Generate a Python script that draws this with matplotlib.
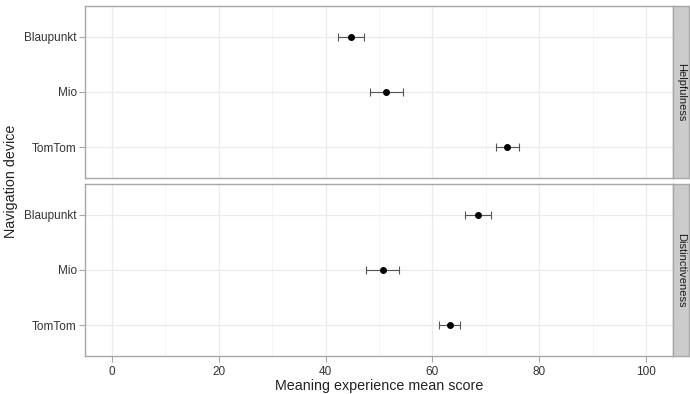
import matplotlib
matplotlib.use("Agg")
import matplotlib.pyplot as plt
from matplotlib.ticker import MultipleLocator

plt.rcParams['font.family'] = ['Liberation Sans', 'DejaVu Sans']

devices = ["Blaupunkt", "Mio", "TomTom"]
facets = ["Helpfulness", "Distinctiveness"]
means = {
    "Helpfulness": [44.8, 51.3, 74.0],
    "Distinctiveness": [68.5, 50.7, 63.2],
}
lower = {
    "Helpfulness": [42.4, 48.3, 71.9],
    "Distinctiveness": [66.0, 47.6, 61.2],
}
upper = {
    "Helpfulness": [47.2, 54.4, 76.1],
    "Distinctiveness": [70.9, 53.7, 65.2],
}
xticks = [0, 20, 40, 60, 80, 100]

fig = plt.figure(figsize=(6.9, 3.94), dpi=100)
W, H = 690, 394
left, right = 85, 673
panels = [(6, 178), (184, 356)]
border = "#a8a8a8"
txt = "#333333"

for i, (facet, (t, b)) in enumerate(zip(facets, panels)):
    ax = fig.add_axes([left / W, 1 - b / H, (right - left) / W, (b - t) / H])
    ypos = list(range(len(devices)))
    m = means[facet]
    lo = [mm - l for mm, l in zip(m, lower[facet])]
    hi = [u - mm for mm, u in zip(m, upper[facet])]
    ax.errorbar(m, ypos, xerr=[lo, hi], fmt='none', ecolor='#555555',
                elinewidth=0.8, capsize=3, capthick=0.8, zorder=3)
    ax.plot(m, ypos, 'o', color='black', markersize=4, zorder=4)
    ax.set_xlim(-5, 105)
    ax.set_ylim(len(devices) - 1 + 0.55, -0.55)
    ax.set_yticks(ypos)
    ax.set_yticklabels(devices, fontsize=8.5, color=txt)
    ax.xaxis.set_major_locator(MultipleLocator(20))
    ax.xaxis.set_minor_locator(MultipleLocator(10))
    ax.grid(which='major', color='#ebebeb', linewidth=0.9)
    ax.grid(which='minor', axis='x', color='#f4f4f4', linewidth=0.6)
    ax.set_axisbelow(True)
    for s in ax.spines.values():
        s.set_color(border)
        s.set_linewidth(1.0)
    ax.tick_params(axis='y', length=4, color=border, width=0.8, pad=2)
    ax.tick_params(axis='x', which='minor', length=0)
    if i == 0:
        ax.tick_params(axis='x', which='major', length=0, labelbottom=False)
    else:
        ax.set_xticks(xticks)
        ax.tick_params(axis='x', which='major', length=4, color=border,
                       width=0.8, labelsize=8.5, labelcolor=txt, pad=3)
        ax.set_xlabel("Meaning experience mean score", fontsize=10.3,
                      labelpad=1, color='#222222')
    # strip
    sax = fig.add_axes([right / W, 1 - b / H, 16 / W, (b - t) / H])
    sax.set_facecolor('#cccccc')
    sax.set_xticks([])
    sax.set_yticks([])
    for s in sax.spines.values():
        s.set_color(border)
        s.set_linewidth(1.0)
    sax.text(0.5, 0.5, facet, rotation=-90, ha='center', va='center',
             fontsize=8, color='#1a1a1a', transform=sax.transAxes)

fig.text(11 / W, 1 - 181 / H, "Navigation device", rotation=90,
         ha='center', va='center', fontsize=10.3, color='#222222')

fig.savefig("out.png", dpi=100)
